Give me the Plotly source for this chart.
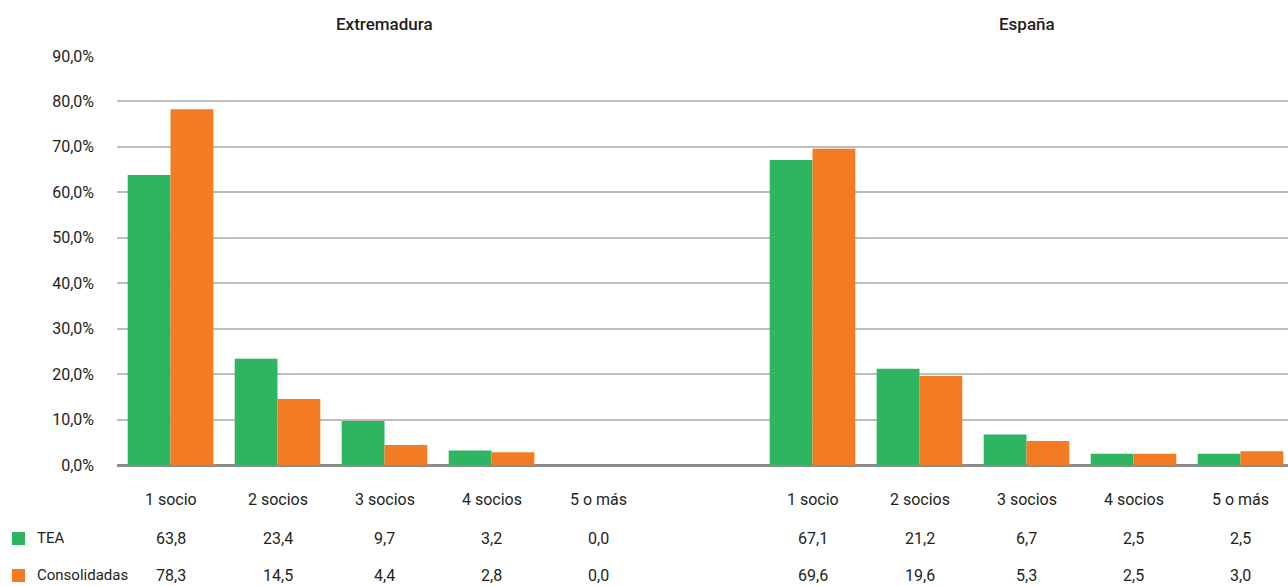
import plotly.graph_objects as go

categories = ["1 socio", "2 socios", "3 socios", "4 socios", "5 o más"]
groups = ["Extremadura", "España"]
tea_ext = [63.8, 23.4, 9.7, 3.2, 0.0]
cons_ext = [78.3, 14.5, 4.4, 2.8, 0.0]
tea_esp = [67.1, 21.2, 6.7, 2.5, 2.5]
cons_esp = [69.6, 19.6, 5.3, 2.5, 3.0]
series_names = ["TEA", "Consolidadas"]
y_ticks = [0, 10, 20, 30, 40, 50, 60, 70, 80, 90]
y_ticklabels = ["0,0%", "10,0%", "20,0%", "30,0%", "40,0%", "50,0%",
                "60,0%", "70,0%", "80,0%", "90,0%"]

GREEN = "#2db562"
ORANGE = "#f37b24"
FONT = "Roboto, Liberation Sans Narrow, sans-serif"
TXT = "#231f20"

# slot positions: Extremadura 0-4, empty slot 5, España 6-10
x_ext = list(range(0, 5))
x_esp = list(range(6, 11))
xs = x_ext + x_esp
tea = tea_ext + tea_esp
cons = cons_ext + cons_esp

fig = go.Figure()
fig.add_trace(go.Bar(x=xs, y=tea, name=series_names[0], marker_color=GREEN,
                     marker_line_width=0))
fig.add_trace(go.Bar(x=xs, y=cons, name=series_names[1], marker_color=ORANGE,
                     marker_line_width=0))

H = 409.0  # plot height px


def py(px):
    return (465 - px) / H


ann = []
# group titles
for gx, gname in [(2, groups[0]), (8, groups[1])]:
    ann.append(dict(x=gx, y=py(24), xref="x", yref="paper", text=gname,
                    showarrow=False, yanchor="middle",
                    font=dict(size=17, color=TXT, family=FONT, weight=500)))


def fmt(v):
    return f"{v:.1f}".replace(".", ",")


for i, x in enumerate(xs):
    cat = categories[i % 5]
    for txt, row in [(cat, 500), (fmt(tea[i]), 538), (fmt(cons[i]), 575)]:
        ann.append(dict(x=x, y=py(row), xref="x", yref="paper", text=txt,
                        showarrow=False, yanchor="middle",
                        font=dict(size=16, color=TXT, family=FONT)))

W = 1171.0


def pxr(px):
    return (px - 117) / W


# legend labels
for name, row in [(series_names[0], 538), (series_names[1], 575)]:
    ann.append(dict(x=pxr(35), y=py(row), xref="paper", yref="paper", text=name,
                    xanchor="left", yanchor="middle", showarrow=False,
                    font=dict(size=15, color=TXT, family=FONT)))

shapes = []
for color, row in [(GREEN, 538), (ORANGE, 575)]:
    shapes.append(dict(type="rect", xref="paper", yref="paper",
                       x0=pxr(12), x1=pxr(25), y0=py(row + 7), y1=py(row - 6),
                       fillcolor=color, line_width=0))

fig.update_layout(
    width=1288, height=586,
    margin=dict(l=117, r=0, t=56, b=121),
    paper_bgcolor="white", plot_bgcolor="white",
    barmode="group", bargap=0.2, bargroupgap=0,
    showlegend=False,
    annotations=ann, shapes=shapes,
    font=dict(family=FONT, color=TXT),
    xaxis=dict(range=[-0.5, -0.5 + W / 107.0], showticklabels=False,
               showgrid=False, zeroline=False, showline=False, ticks=""),
    yaxis=dict(range=[0, 90], tickvals=y_ticks, ticktext=y_ticklabels,
               showgrid=True, gridcolor="#bdbdbd", gridwidth=1.5,
               zeroline=True, zerolinecolor="#8c8c8c", zerolinewidth=3,
               tickfont=dict(size=16, color=TXT, family=FONT), ticks="",
               ticklabelstandoff=22, showline=False),
)

fig.write_html("out.html", config={"displayModeBar": False},
               post_script="document.body.style.margin='0';"
                           "document.body.style.overflow='hidden';")
